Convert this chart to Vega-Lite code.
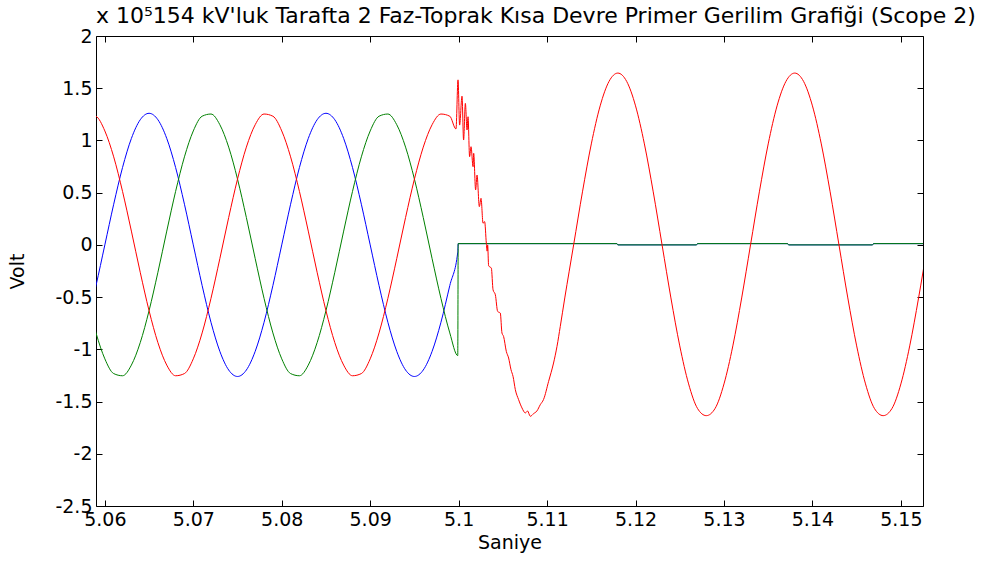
{
  "$schema": "https://vega.github.io/schema/vega-lite/v6.json",
  "width": 827,
  "height": 470,
  "autosize": {"type": "none"},
  "padding": {"left": 96, "top": 36, "right": 69, "bottom": 55},
  "background": "white",
  "config": {"view": {"stroke": null}, "font": "DejaVu Sans"},
  "title": {
    "text": "x 10⁵154 kV'luk Tarafta 2 Faz-Toprak Kısa Devre Primer Gerilim Grafiği (Scope 2)",
    "anchor": "start",
    "frame": "group",
    "font": "DejaVu Sans",
    "fontSize": 22,
    "fontWeight": "normal",
    "color": "black",
    "offset": -1
  },
  "data": {"values": [
    {"s":"b","t":5.058,"v":-0.741},{"s":"b","t":5.059,"v":-0.389},{"s":"b","t":5.060,"v":0},{"s":"b","t":5.061,"v":0.389},
    {"s":"b","t":5.062,"v":0.741},{"s":"b","t":5.063,"v":1.019},{"s":"b","t":5.064,"v":1.198},{"s":"b","t":5.065,"v":1.26},
    {"s":"b","t":5.066,"v":1.198},{"s":"b","t":5.067,"v":1.019},{"s":"b","t":5.068,"v":0.741},{"s":"b","t":5.069,"v":0.389},
    {"s":"b","t":5.070,"v":0},{"s":"b","t":5.071,"v":-0.389},{"s":"b","t":5.072,"v":-0.741},{"s":"b","t":5.073,"v":-1.019},
    {"s":"b","t":5.074,"v":-1.198},{"s":"b","t":5.075,"v":-1.26},{"s":"b","t":5.076,"v":-1.198},{"s":"b","t":5.077,"v":-1.019},
    {"s":"b","t":5.078,"v":-0.741},{"s":"b","t":5.079,"v":-0.389},{"s":"b","t":5.080,"v":0},{"s":"b","t":5.081,"v":0.389},
    {"s":"b","t":5.082,"v":0.741},{"s":"b","t":5.083,"v":1.019},{"s":"b","t":5.084,"v":1.198},{"s":"b","t":5.085,"v":1.26},
    {"s":"b","t":5.086,"v":1.198},{"s":"b","t":5.087,"v":1.019},{"s":"b","t":5.088,"v":0.741},{"s":"b","t":5.089,"v":0.389},
    {"s":"b","t":5.090,"v":0},{"s":"b","t":5.091,"v":-0.389},{"s":"b","t":5.092,"v":-0.741},{"s":"b","t":5.093,"v":-1.019},
    {"s":"b","t":5.094,"v":-1.198},{"s":"b","t":5.095,"v":-1.26},{"s":"b","t":5.096,"v":-1.198},{"s":"b","t":5.097,"v":-1.019},
    {"s":"b","t":5.098,"v":-0.741},{"s":"b","t":5.099,"v":-0.389},{"s":"b","t":5.0999,"v":-0.07},{"s":"b","t":5.09995,"v":0.012},
    {"s":"b","t":5.1179,"v":0.012},{"s":"b","t":5.118,"v":0},{"s":"b","t":5.1269,"v":0},{"s":"b","t":5.127,"v":0.012},
    {"s":"b","t":5.1372,"v":0.012},{"s":"b","t":5.1373,"v":0},{"s":"b","t":5.1468,"v":0},{"s":"b","t":5.1469,"v":0.012},
    {"s":"b","t":5.153,"v":0.012},

    {"s":"g","t":5.058,"v":-0.512},{"s":"g","t":5.059,"v":-0.843},{"s":"g","t":5.060,"v":-1.091},{"s":"g","t":5.061,"v":-1.232},
    {"s":"g","t":5.062,"v":-1.253},{"s":"g","t":5.063,"v":-1.151},{"s":"g","t":5.064,"v":-0.936},{"s":"g","t":5.065,"v":-0.63},
    {"s":"g","t":5.066,"v":-0.262},{"s":"g","t":5.067,"v":0.132},{"s":"g","t":5.068,"v":0.512},{"s":"g","t":5.069,"v":0.843},
    {"s":"g","t":5.070,"v":1.091},{"s":"g","t":5.071,"v":1.232},{"s":"g","t":5.072,"v":1.253},{"s":"g","t":5.073,"v":1.151},
    {"s":"g","t":5.074,"v":0.936},{"s":"g","t":5.075,"v":0.63},{"s":"g","t":5.076,"v":0.262},{"s":"g","t":5.077,"v":-0.132},
    {"s":"g","t":5.078,"v":-0.512},{"s":"g","t":5.079,"v":-0.843},{"s":"g","t":5.080,"v":-1.091},{"s":"g","t":5.081,"v":-1.232},
    {"s":"g","t":5.082,"v":-1.253},{"s":"g","t":5.083,"v":-1.151},{"s":"g","t":5.084,"v":-0.936},{"s":"g","t":5.085,"v":-0.63},
    {"s":"g","t":5.086,"v":-0.262},{"s":"g","t":5.087,"v":0.132},{"s":"g","t":5.088,"v":0.512},{"s":"g","t":5.089,"v":0.843},
    {"s":"g","t":5.090,"v":1.091},{"s":"g","t":5.091,"v":1.232},{"s":"g","t":5.092,"v":1.253},{"s":"g","t":5.093,"v":1.151},
    {"s":"g","t":5.094,"v":0.936},{"s":"g","t":5.095,"v":0.63},{"s":"g","t":5.096,"v":0.262},{"s":"g","t":5.097,"v":-0.132},
    {"s":"g","t":5.098,"v":-0.512},{"s":"g","t":5.099,"v":-0.843},{"s":"g","t":5.0999,"v":-1.06},{"s":"g","t":5.09995,"v":0.012},
    {"s":"g","t":5.1179,"v":0.012},{"s":"g","t":5.118,"v":0},{"s":"g","t":5.1269,"v":0},{"s":"g","t":5.127,"v":0.012},
    {"s":"g","t":5.1372,"v":0.012},{"s":"g","t":5.1373,"v":0},{"s":"g","t":5.1468,"v":0},{"s":"g","t":5.1469,"v":0.012},
    {"s":"g","t":5.153,"v":0.012},

    {"s":"r","t":5.058,"v":1.253},{"s":"r","t":5.059,"v":1.232},{"s":"r","t":5.060,"v":1.091},{"s":"r","t":5.061,"v":0.843},
    {"s":"r","t":5.062,"v":0.512},{"s":"r","t":5.063,"v":0.132},{"s":"r","t":5.064,"v":-0.262},{"s":"r","t":5.065,"v":-0.63},
    {"s":"r","t":5.066,"v":-0.936},{"s":"r","t":5.067,"v":-1.151},{"s":"r","t":5.068,"v":-1.253},{"s":"r","t":5.069,"v":-1.232},
    {"s":"r","t":5.070,"v":-1.091},{"s":"r","t":5.071,"v":-0.843},{"s":"r","t":5.072,"v":-0.512},{"s":"r","t":5.073,"v":-0.132},
    {"s":"r","t":5.074,"v":0.262},{"s":"r","t":5.075,"v":0.63},{"s":"r","t":5.076,"v":0.936},{"s":"r","t":5.077,"v":1.151},
    {"s":"r","t":5.078,"v":1.253},{"s":"r","t":5.079,"v":1.232},{"s":"r","t":5.080,"v":1.091},{"s":"r","t":5.081,"v":0.843},
    {"s":"r","t":5.082,"v":0.512},{"s":"r","t":5.083,"v":0.132},{"s":"r","t":5.084,"v":-0.262},{"s":"r","t":5.085,"v":-0.63},
    {"s":"r","t":5.086,"v":-0.936},{"s":"r","t":5.087,"v":-1.151},{"s":"r","t":5.088,"v":-1.253},{"s":"r","t":5.089,"v":-1.232},
    {"s":"r","t":5.090,"v":-1.091},{"s":"r","t":5.091,"v":-0.843},{"s":"r","t":5.092,"v":-0.512},{"s":"r","t":5.093,"v":-0.132},
    {"s":"r","t":5.094,"v":0.262},{"s":"r","t":5.095,"v":0.63},{"s":"r","t":5.096,"v":0.936},{"s":"r","t":5.097,"v":1.151},
    {"s":"r","t":5.098,"v":1.253},{"s":"r","t":5.099,"v":1.232},{"s":"r","t":5.0997,"v":1.11},{"s":"r","t":5.09993,"v":1.58},
    {"s":"r","t":5.10011,"v":1.147},{"s":"r","t":5.10038,"v":1.424},{"s":"r","t":5.10056,"v":1.004},{"s":"r","t":5.10076,"v":1.355},
    {"s":"r","t":5.10095,"v":1.10},{"s":"r","t":5.10106,"v":1.227},{"s":"r","t":5.10124,"v":0.844},{"s":"r","t":5.1014,"v":0.94},
    {"s":"r","t":5.10163,"v":0.749},{"s":"r","t":5.1017,"v":0.877},{"s":"r","t":5.10192,"v":0.526},{"s":"r","t":5.10208,"v":0.669},
    {"s":"r","t":5.10234,"v":0.366},{"s":"r","t":5.10253,"v":0.446},{"s":"r","t":5.10276,"v":0.207},{"s":"r","t":5.10294,"v":0.223},
    {"s":"r","t":5.10313,"v":0.016},{"s":"r","t":5.10322,"v":-0.06},{"s":"r","t":5.10328,"v":0.0},{"s":"r","t":5.10339,"v":-0.2},
    {"s":"r","t":5.1037,"v":-0.223},{"s":"r","t":5.10389,"v":-0.43},{"s":"r","t":5.10415,"v":-0.478},{"s":"r","t":5.10441,"v":-0.637},
    {"s":"r","t":5.10471,"v":-0.653},{"s":"r","t":5.1049,"v":-0.844},{"s":"r","t":5.10508,"v":-0.876},{"s":"r","t":5.10539,"v":-1.02},
    {"s":"r","t":5.10565,"v":-1.083},{"s":"r","t":5.10592,"v":-1.195},{"s":"r","t":5.10615,"v":-1.259},{"s":"r","t":5.10641,"v":-1.386},
    {"s":"r","t":5.10678,"v":-1.482},{"s":"r","t":5.10716,"v":-1.561},{"s":"r","t":5.10754,"v":-1.609},{"s":"r","t":5.10779,"v":-1.59},
    {"s":"r","t":5.1081,"v":-1.641},{"s":"r","t":5.10847,"v":-1.616},{"s":"r","t":5.10885,"v":-1.59},{"s":"r","t":5.10923,"v":-1.53},
    {"s":"r","t":5.1096,"v":-1.48},{"s":"r","t":5.11017,"v":-1.307},{"s":"r","t":5.11073,"v":-1.131},{"s":"r","t":5.11112,"v":-0.972},
    {"s":"r","t":5.11149,"v":-0.781},{"s":"r","t":5.112,"v":-0.508},{"s":"r","t":5.113,"v":0},{"s":"r","t":5.114,"v":0.508},
    {"s":"r","t":5.115,"v":0.967},{"s":"r","t":5.116,"v":1.331},{"s":"r","t":5.117,"v":1.565},{"s":"r","t":5.118,"v":1.645},
    {"s":"r","t":5.119,"v":1.565},{"s":"r","t":5.120,"v":1.331},{"s":"r","t":5.121,"v":0.967},{"s":"r","t":5.122,"v":0.508},
    {"s":"r","t":5.123,"v":0},{"s":"r","t":5.124,"v":-0.508},{"s":"r","t":5.125,"v":-0.967},{"s":"r","t":5.126,"v":-1.331},
    {"s":"r","t":5.127,"v":-1.565},{"s":"r","t":5.128,"v":-1.635},{"s":"r","t":5.129,"v":-1.565},{"s":"r","t":5.130,"v":-1.331},
    {"s":"r","t":5.131,"v":-0.967},{"s":"r","t":5.132,"v":-0.508},{"s":"r","t":5.133,"v":0},{"s":"r","t":5.134,"v":0.508},
    {"s":"r","t":5.135,"v":0.967},{"s":"r","t":5.136,"v":1.331},{"s":"r","t":5.137,"v":1.565},{"s":"r","t":5.138,"v":1.645},
    {"s":"r","t":5.139,"v":1.565},{"s":"r","t":5.140,"v":1.331},{"s":"r","t":5.141,"v":0.967},{"s":"r","t":5.142,"v":0.508},
    {"s":"r","t":5.143,"v":0},{"s":"r","t":5.144,"v":-0.508},{"s":"r","t":5.145,"v":-0.967},{"s":"r","t":5.146,"v":-1.331},
    {"s":"r","t":5.147,"v":-1.565},{"s":"r","t":5.148,"v":-1.635},{"s":"r","t":5.149,"v":-1.565},{"s":"r","t":5.150,"v":-1.331},
    {"s":"r","t":5.151,"v":-0.967},{"s":"r","t":5.152,"v":-0.508},{"s":"r","t":5.153,"v":0}
  ]},
  "layer": [
    {
      "transform": [{"filter": "datum.s == 'b'"}],
      "mark": {"type": "line", "strokeWidth": 1, "interpolate": "monotone", "clip": true, "color": "#0000ff"},
      "encoding": {
        "x": {
          "field": "t", "type": "quantitative",
          "scale": {"domain": [5.059, 5.1525], "nice": false, "zero": false},
          "axis": {
            "orient": "bottom", "title": "Saniye",
            "values": [5.06, 5.07, 5.08, 5.09, 5.1, 5.11, 5.12, 5.13, 5.14, 5.15],
            "labelExpr": "'' + datum.value",
            "grid": false, "domainColor": "black", "domainWidth": 1,
            "tickColor": "black", "tickSize": -6, "tickWidth": 1,
            "labelFont": "DejaVu Sans", "labelFontSize": 19, "labelColor": "black",
            "labelPadding": 10, "labelFlush": false, "labelOverlap": false,
            "titleFont": "DejaVu Sans", "titleFontSize": 19, "titleFontWeight": "normal",
            "titleColor": "black", "titlePadding": 4
          }
        },
        "y": {
          "field": "v", "type": "quantitative",
          "scale": {"domain": [-2.5, 2], "nice": false, "zero": false},
          "axis": {
            "orient": "left", "title": "Volt",
            "values": [-2.5, -2, -1.5, -1, -0.5, 0, 0.5, 1, 1.5, 2],
            "labelExpr": "'' + datum.value",
            "grid": false, "domainColor": "black", "domainWidth": 1,
            "tickColor": "black", "tickSize": -6, "tickWidth": 1,
            "labelFont": "DejaVu Sans", "labelFontSize": 19, "labelColor": "black",
            "labelPadding": 10, "labelFlush": false, "labelOverlap": false,
            "titleFont": "DejaVu Sans", "titleFontSize": 19, "titleFontWeight": "normal",
            "titleColor": "black", "titlePadding": 27
          }
        }
      }
    },
    {
      "transform": [{"filter": "datum.s == 'g'"}],
      "mark": {"type": "line", "strokeWidth": 1, "interpolate": "monotone", "clip": true, "color": "#008000"},
      "encoding": {
        "x": {"field": "t", "type": "quantitative", "axis": null},
        "y": {"field": "v", "type": "quantitative", "axis": null}
      }
    },
    {
      "transform": [{"filter": "datum.s == 'r'"}],
      "mark": {"type": "line", "strokeWidth": 1, "interpolate": "monotone", "clip": true, "color": "#ff0000"},
      "encoding": {
        "x": {"field": "t", "type": "quantitative", "axis": null},
        "y": {"field": "v", "type": "quantitative", "axis": null}
      }
    },
    {
      "mark": {"type": "point", "opacity": 0},
      "encoding": {
        "x": {
          "field": "t", "type": "quantitative",
          "axis": {
            "orient": "top", "title": null, "labels": false,
            "values": [5.06, 5.07, 5.08, 5.09, 5.1, 5.11, 5.12, 5.13, 5.14, 5.15],
            "grid": false, "domainColor": "black", "domainWidth": 1,
            "tickColor": "black", "tickSize": -6, "tickWidth": 1
          }
        },
        "y": {
          "field": "v", "type": "quantitative",
          "axis": {
            "orient": "right", "title": null, "labels": false,
            "values": [-2.5, -2, -1.5, -1, -0.5, 0, 0.5, 1, 1.5, 2],
            "grid": false, "domainColor": "black", "domainWidth": 1,
            "tickColor": "black", "tickSize": -6, "tickWidth": 1
          }
        }
      }
    }
  ],
  "resolve": {"axis": {"x": "independent", "y": "independent"}}
}
